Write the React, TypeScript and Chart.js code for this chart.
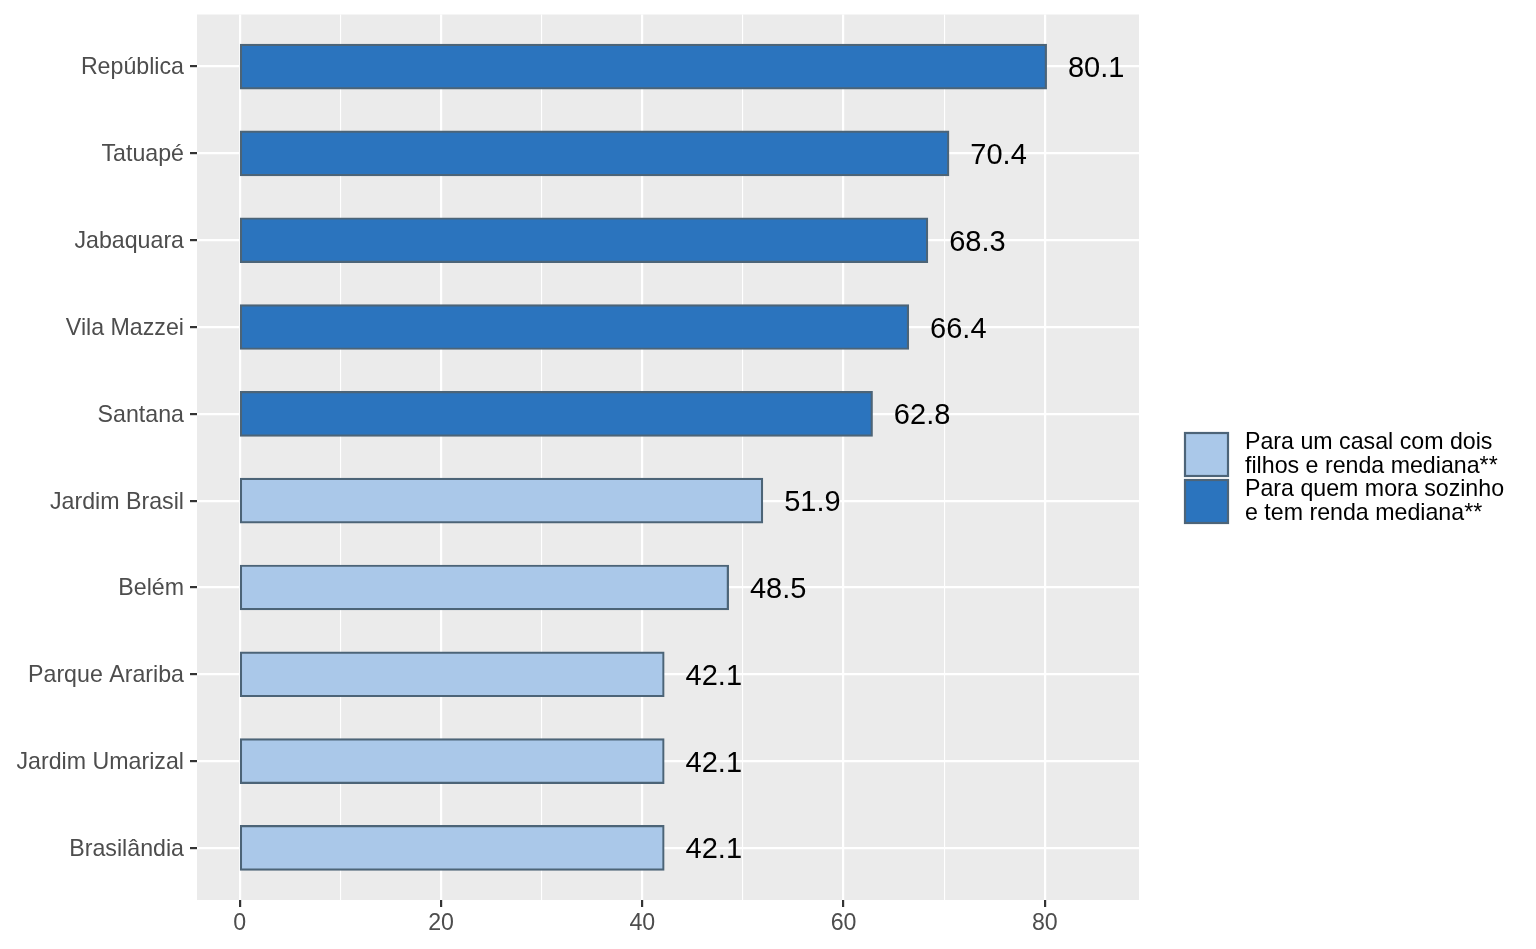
import { useEffect, useRef } from "react";
import { Chart, registerables } from "chart.js";

Chart.register(...registerables);

const categories = [
  "República",
  "Tatuapé",
  "Jabaquara",
  "Vila Mazzei",
  "Santana",
  "Jardim Brasil",
  "Belém",
  "Parque Arariba",
  "Jardim Umarizal",
  "Brasilândia",
];
const values = [80.1, 70.4, 68.3, 66.4, 62.8, 51.9, 48.5, 42.1, 42.1, 42.1];
// 0 = casal com dois filhos, 1 = mora sozinho
const groups = [1, 1, 1, 1, 1, 0, 0, 0, 0, 0];
const groupLabels = [
  ["Para um casal com dois", "filhos e renda mediana**"],
  ["Para quem mora sozinho", "e tem renda mediana**"],
];
const groupColors = ["#AAC8E9", "#2B74BE"];
const xTickValues = [0, 10, 20, 30, 40, 50, 60, 70, 80];
const xLabelStep = 20;
const labelOffset = 5;

const FONT = '"Liberation Sans", Arial, sans-serif';
const AXIS_SIZE = 23.2;

export default function App() {
  const ref = useRef<HTMLCanvasElement>(null);

  useEffect(() => {
    const canvas = ref.current;
    if (!canvas) return;

    const panelPlugin = {
      id: "panelBg",
      beforeDraw(chart: any) {
        const { ctx, chartArea: a } = chart;
        ctx.save();
        ctx.fillStyle = "#EBEBEB";
        ctx.fillRect(a.left, a.top, a.right - a.left, a.bottom - a.top);
        ctx.restore();
      },
    };

    const valueLabelPlugin = {
      id: "valueLabels",
      afterDatasetsDraw(chart: any) {
        const { ctx } = chart;
        const xs = chart.scales.x;
        const ys = chart.scales.y;
        ctx.save();
        ctx.font = `29px ${FONT}`;
        ctx.fillStyle = "#000000";
        ctx.textAlign = "center";
        ctx.textBaseline = "alphabetic";
        values.forEach((v, i) => {
          ctx.fillText(
            v.toFixed(1),
            xs.getPixelForValue(v + labelOffset),
            ys.getPixelForValue(i) + 10.5
          );
        });
        ctx.restore();
      },
    };

    const legendPlugin = {
      id: "sideLegend",
      afterDraw(chart: any) {
        const { ctx } = chart;
        const keyX = 1185;
        const keyTops = [433, 480];
        const keySize = 43;
        const textX = 1245;
        ctx.save();
        groupLabels.forEach((lines, g) => {
          const top = keyTops[g];
          ctx.fillStyle = groupColors[g];
          ctx.fillRect(keyX, top, keySize, keySize);
          ctx.strokeStyle = "#4D6478";
          ctx.lineWidth = 2.2;
          ctx.strokeRect(keyX, top, keySize, keySize);
          ctx.fillStyle = "#000000";
          ctx.font = `${AXIS_SIZE}px ${FONT}`;
          ctx.textAlign = "left";
          ctx.textBaseline = "alphabetic";
          lines.forEach((line, li) => {
            ctx.fillText(line, textX, top + 16 + li * 24);
          });
        });
        ctx.restore();
      },
    };

    const chart = new Chart(canvas, {
      type: "bar",
      data: {
        datasets: [
          {
            data: values.map((v, i) => ({ x: v, y: i })),
            backgroundColor: groups.map((g) => groupColors[g]),
            borderColor: "#4C6477",
            borderWidth: 2.2,
            borderSkipped: false,
            inflateAmount: 1.1,
            barPercentage: 0.5,
            categoryPercentage: 1,
          } as any,
        ],
      },
      options: {
        indexAxis: "y",
        animation: false,
        responsive: false,
        devicePixelRatio: 1,
        layout: { padding: { left: 0, top: 14.5, right: 397, bottom: 0 } },
        plugins: {
          legend: { display: false },
          tooltip: { enabled: false },
        },
        scales: {
          x: {
            type: "linear",
            min: -4.255,
            max: 89.355,
            afterBuildTicks: (scale: any) => {
              scale.ticks = xTickValues.map((v) => ({ value: v }));
            },
            afterFit: (scale: any) => {
              scale.height = 49;
              scale.paddingLeft = 0;
              scale.paddingRight = 0;
            },
            border: { display: false },
            grid: {
              color: "#FFFFFF",
              lineWidth: (c: any) =>
                c.tick && c.tick.value % xLabelStep === 0 ? 2.2 : 1.1,
              tickColor: (c: any) =>
                c.tick && c.tick.value % xLabelStep === 0
                  ? "#333333"
                  : "rgba(0,0,0,0)",
              tickLength: 7,
              tickWidth: 2.2,
            },
            ticks: {
              autoSkip: false,
              maxRotation: 0,
              padding: 3,
              color: "#4D4D4D",
              font: { family: FONT, size: AXIS_SIZE },
              callback: (v: any) =>
                Number(v) % xLabelStep === 0 ? String(v) : "",
            },
          },
          y: {
            type: "linear",
            reverse: true,
            min: -0.6,
            max: categories.length - 0.4,
            offset: false,
            afterBuildTicks: (scale: any) => {
              scale.ticks = categories.map((_, i) => ({ value: i }));
            },
            afterFit: (scale: any) => {
              scale.width = 197;
              scale.paddingTop = 0;
              scale.paddingBottom = 0;
            },
            border: { display: false },
            grid: {
              color: "#FFFFFF",
              lineWidth: 2.2,
              offset: false,
              tickColor: "#333333",
              tickLength: 7,
              tickWidth: 2.2,
            },
            ticks: {
              autoSkip: false,
              padding: 6,
              labelOffset: 1.5,
              color: "#4D4D4D",
              font: { family: FONT, size: AXIS_SIZE },
              callback: (v: any) => categories[Number(v)] ?? "",
            },
          },
        },
      },
      plugins: [panelPlugin, valueLabelPlugin, legendPlugin],
    });

    return () => chart.destroy();
  }, []);

  return (
    <div
      style={{
        position: "absolute",
        left: 0,
        top: 0,
        width: 1536,
        height: 949,
        background: "#FFFFFF",
      }}
    >
      <canvas
        ref={ref}
        width={1536}
        height={949}
        style={{ width: 1536, height: 949, display: "block" }}
      />
    </div>
  );
}
